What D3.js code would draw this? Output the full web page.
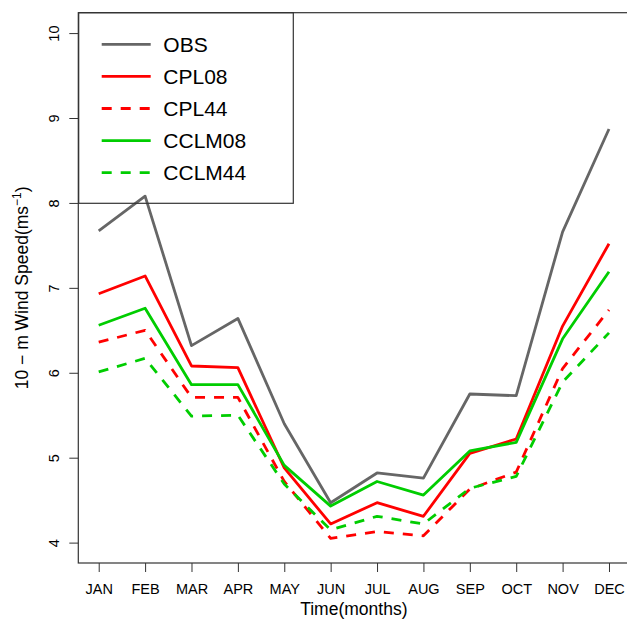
<!DOCTYPE html>
<html>
<head>
<meta charset="utf-8">
<script src="https://cdn.jsdelivr.net/npm/d3@7"></script>
<style>
  html, body { margin: 0; padding: 0; background: #fff; }
  svg { display: block; font-family: "Liberation Sans", Arial, Helvetica, sans-serif; }
</style>
</head>
<body>
<svg id="chart" width="627" height="623"></svg>
<script>
// ---- data ----
const months = ["JAN","FEB","MAR","APR","MAY","JUN","JUL","AUG","SEP","OCT","NOV","DEC"];
const obs    = [7.67, 8.08, 6.32, 6.64, 5.40, 4.47, 4.82, 4.76, 5.75, 5.73, 7.66, 8.87];
const cpl08  = [6.93, 7.14, 6.08, 6.06, 4.88, 4.22, 4.47, 4.31, 5.05, 5.22, 6.55, 7.52];
const cpl44  = [6.36, 6.50, 5.71, 5.71, 4.72, 4.05, 4.13, 4.08, 4.63, 4.83, 6.05, 6.74];
const cclm08 = [6.56, 6.76, 5.86, 5.86, 4.91, 4.43, 4.72, 4.56, 5.08, 5.18, 6.40, 7.19];
const cclm44 = [6.01, 6.17, 5.49, 5.50, 4.69, 4.15, 4.31, 4.22, 4.64, 4.78, 5.89, 6.47];
const yTicks = [4, 5, 6, 7, 8, 9, 10];
const seriesNames = ["OBS", "CPL08", "CPL44", "CCLM08", "CCLM44"];

const series = [
  { name: seriesNames[0], values: obs,    color: "#666666", dash: null },
  { name: seriesNames[1], values: cpl08,  color: "#ff0000", dash: null },
  { name: seriesNames[2], values: cpl44,  color: "#ff0000", dash: "10,9" },
  { name: seriesNames[3], values: cclm08, color: "#00cd00", dash: null },
  { name: seriesNames[4], values: cclm44, color: "#00cd00", dash: "10,9" }
];

// ---- layout ----
const svg = d3.select("#chart");
const pLeft = 78.3, pRight = 629.4, pTop = 12.7, pBottom = 563;

const x = d3.scaleLinear().domain([1 - 0.44, 12 + 0.44]).range([pLeft, pRight]);
const y = d3.scaleLinear().domain([3.76, 10.24]).range([pBottom, pTop]);

// x axis
const xAxis = d3.axisBottom(x)
  .tickValues(d3.range(1, 13))
  .tickFormat(i => months[i - 1])
  .tickSize(9)
  .tickPadding(11.5);
const gx = svg.append("g").attr("transform", `translate(0,${pBottom})`).call(xAxis);
gx.select(".domain").remove();
gx.selectAll("line").attr("stroke", "#333");
gx.selectAll("text").attr("font-size", "14.5px").attr("fill", "#000")
  .attr("font-family", "Liberation Sans, Arial, sans-serif");

// y axis
const yAxis = d3.axisLeft(y).tickValues(yTicks).tickFormat(d3.format("d")).tickSize(9);
const gy = svg.append("g").attr("transform", `translate(${pLeft},0)`).call(yAxis);
gy.select(".domain").remove();
gy.selectAll("line").attr("stroke", "#333");
gy.selectAll("text")
  .attr("x", null).attr("dy", null)
  .attr("transform", "translate(-19,0) rotate(-90)")
  .attr("text-anchor", "middle")
  .attr("font-size", "14.5px").attr("fill", "#000")
  .attr("font-family", "Liberation Sans, Arial, sans-serif");

// plot frame
svg.append("rect")
  .attr("x", pLeft).attr("y", pTop)
  .attr("width", pRight - pLeft).attr("height", pBottom - pTop)
  .attr("fill", "none").attr("stroke", "#333").attr("stroke-width", 1.2);

// lines
const line = d3.line().x((d, i) => x(i + 1)).y(d => y(d));
series.forEach(s => {
  svg.append("path")
    .datum(s.values)
    .attr("d", line)
    .attr("fill", "none")
    .attr("stroke", s.color)
    .attr("stroke-width", 2.8)
    .attr("stroke-dasharray", s.dash)
    .attr("stroke-linejoin", "round");
});

// legend
const lg = svg.append("g");
lg.append("rect")
  .attr("x", 78.7).attr("y", 12.7).attr("width", 293.3 - 78.7).attr("height", 203.3 - 12.7)
  .attr("fill", "none").attr("stroke", "#333").attr("stroke-width", 1.2);
series.forEach((s, i) => {
  const yy = 44.3 + i * 32.1;
  lg.append("line")
    .attr("x1", 101.7).attr("x2", 150.7).attr("y1", yy).attr("y2", yy)
    .attr("stroke", s.color).attr("stroke-width", 2.8)
    .attr("stroke-dasharray", s.dash);
  lg.append("text")
    .attr("x", 163.3).attr("y", yy).attr("dy", "0.36em")
    .attr("font-size", "21px").attr("fill", "#000")
    .text(s.name);
});

// axis titles
svg.append("text")
  .attr("x", (pLeft + pRight) / 2).attr("y", 615)
  .attr("text-anchor", "middle").attr("font-size", "17.5px").attr("fill", "#000")
  .text("Time(months)");

const yt = svg.append("text")
  .attr("transform", `translate(28,${(pTop + pBottom) / 2}) rotate(-90)`)
  .attr("text-anchor", "middle").attr("font-size", "17.5px").attr("fill", "#000");
yt.append("tspan").text("10 \u2212 m Wind Speed(ms");
yt.append("tspan").attr("font-size", "12px").attr("dy", "-7").text("\u22121");
yt.append("tspan").attr("dy", "7").text(")");
</script>
</body>
</html>
